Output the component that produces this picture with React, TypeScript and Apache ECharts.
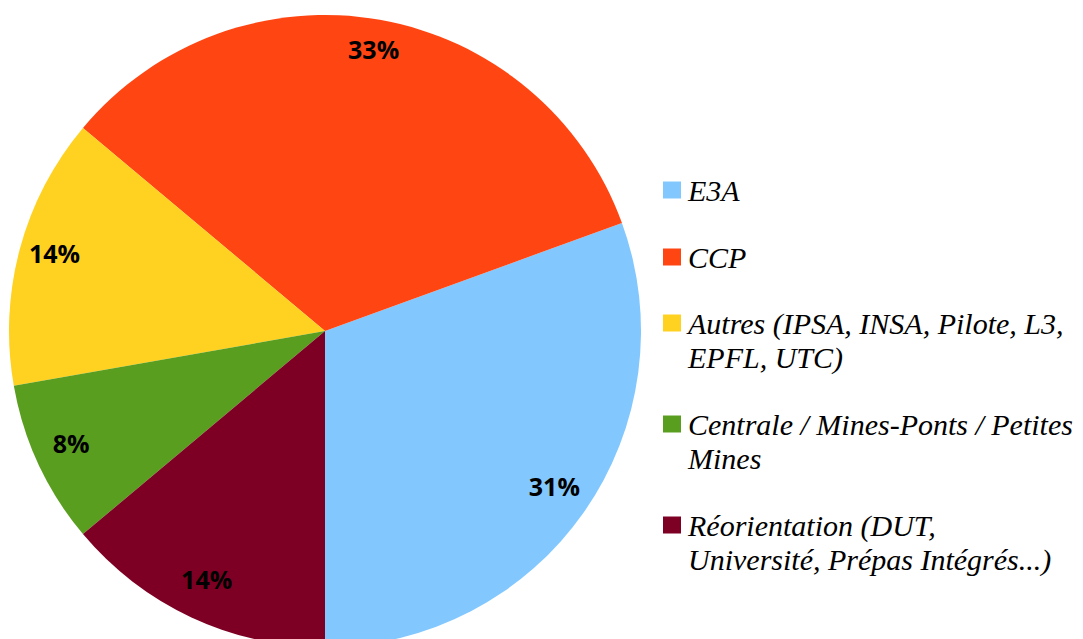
import React, { useEffect, useRef } from "react";
import * as echarts from "echarts";

const categories = [
  "E3A",
  "CCP",
  "Autres (IPSA, INSA, Pilote, L3, EPFL, UTC)",
  "Centrale / Mines-Ponts / Petites Mines",
  "Réorientation (DUT, Université, Prépas Intégrés...)",
];
// legend text as wrapped in the reference
const legendLines = [
  ["E3A"],
  ["CCP"],
  ["Autres (IPSA, INSA, Pilote, L3,", "EPFL, UTC)"],
  ["Centrale / Mines-Ponts / Petites", "Mines"],
  ["Réorientation (DUT,", "Université, Prépas Intégrés...)"],
];
const counts = [22, 24, 10, 6, 10];
const colors = ["#82C8FE", "#FF4512", "#FFD121", "#5A9E1F", "#7D0024"];
const legendTops = [173, 240, 272, 373, 474];

export default function App() {
  const ref = useRef<HTMLDivElement>(null);
  useEffect(() => {
    if (!ref.current) return;
    const chart = echarts.init(ref.current, null, { renderer: "svg" });
    const data = categories.map((name, i) => ({
      name,
      value: counts[i],
      itemStyle: { color: colors[i] },
    }));
    const labelData = categories.map((name, i) => ({ name, value: counts[i] }));
    chart.setOption({
      animation: false,
      backgroundColor: "#ffffff",
      legend: categories.map((name, i) => ({
        data: [name],
        orient: "vertical",
        left: 663,
        top: legendTops[i],
        padding: 0,
        icon: "rect",
        itemWidth: 18,
        itemHeight: 17,
        selectedMode: false,
        formatter: () =>
          (legendLines[i].length > 1 ? "\n" : "") + legendLines[i].join("\n"),
        textStyle: {
          fontFamily: "Liberation Serif",
          fontStyle: "italic",
          fontSize: 30,
          lineHeight: 34,
          color: "#000000",
          padding: [0, 0, 0, 2],
        },
      })),
      series: [
        {
          type: "pie",
          center: [325, 331],
          radius: [0, 316],
          startAngle: -90,
          clockwise: false,
          percentPrecision: 0,
          silent: true,
          itemStyle: { borderWidth: 0 },
          label: { show: false },
          labelLine: { show: false },
          data,
        },
        {
          type: "pie",
          center: [325, 331],
          radius: [238, 316],
          startAngle: -90,
          clockwise: false,
          percentPrecision: 0,
          silent: true,
          itemStyle: { color: "rgba(0,0,0,0)", borderWidth: 0 },
          label: {
            show: true,
            position: "inside",
            formatter: "{d}%",
            fontFamily: "Open Sans",
            fontWeight: "bold",
            fontSize: 25,
            color: "#000000",
            textBorderWidth: 0,
            offset: [0, -6],
          },
          labelLine: { show: false },
          data: labelData,
        },
      ],
    });
    return () => chart.dispose();
  }, []);
  return (
    <div
      ref={ref}
      style={{ position: "fixed", left: 0, top: 0, width: 1083, height: 639 }}
    />
  );
}
